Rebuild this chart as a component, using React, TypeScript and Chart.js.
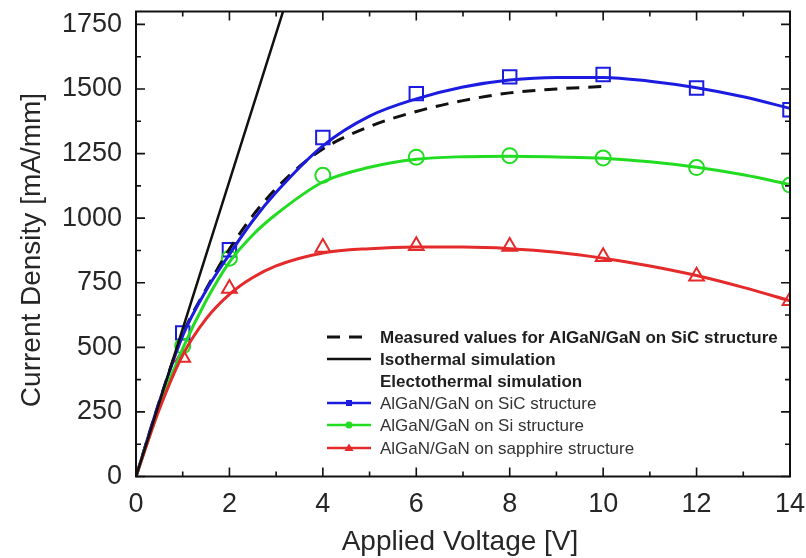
import React, { useEffect, useRef } from 'react';
import { Chart, registerables } from 'chart.js';

Chart.register(...registerables);

// ---- axis ticks ----
const VOLT_TICKS = [0, 2, 4, 6, 8, 10, 12, 14];
const VOLT_MINOR = [1, 3, 5, 7, 9, 11, 13];
const CURRENT_TICKS = [0, 250, 500, 750, 1000, 1250, 1500, 1750];
const CURRENT_MINOR = [125, 375, 625, 875, 1125, 1375, 1625];
const X_MIN = 0;
const X_MAX = 14;
const Y_MIN = 0;
const Y_MAX = 1800;

// ---- measured (dashed) ----
const measuredV = [0, 0.5, 1, 1.5, 2, 2.5, 3, 3.5, 4, 5, 6, 7, 8, 9, 10];
const measuredJ = [0, 290, 550, 725, 880, 1010, 1115, 1200, 1268, 1355, 1413, 1455, 1485, 1500, 1510];

// ---- isothermal simulation ----
const isoV = [0, 3.2];
const isoJ = [0, 1830];

// ---- electrothermal fitted curves ----
const curveV = [0, 0.5, 1, 1.5, 2, 2.5, 3, 4, 5, 6, 7, 8, 9, 10, 11, 12, 13, 14];
const sicCurve = [0, 290, 545, 720, 860, 990, 1100, 1280, 1395, 1462, 1508, 1535, 1545, 1545, 1530, 1505, 1470, 1425];
const siCurve = [0, 270, 495, 680, 830, 935, 1015, 1140, 1197, 1228, 1238, 1240, 1237, 1232, 1218, 1197, 1168, 1130];
const sapCurve = [0, 260, 470, 610, 705, 770, 815, 865, 882, 888, 888, 882, 868, 845, 815, 778, 732, 680];

// ---- electrothermal markers ----
const markV = [1, 2, 4, 6, 8, 10, 12, 14];
const sicMarks = [556, 878, 1312, 1482, 1547, 1556, 1504, 1420];
const siMarks = [505, 845, 1166, 1236, 1242, 1233, 1196, 1128];
const sapMarks = [461, 728, 886, 893, 890, 851, 775, 680];

// ---- legend ----
const LEGEND_LABELS = [
  'Measured values for AlGaN/GaN on SiC structure',
  'Isothermal simulation',
  'Electothermal simulation',
  'AlGaN/GaN on SiC structure',
  'AlGaN/GaN on Si structure',
  'AlGaN/GaN on sapphire structure',
];

const X_TITLE = 'Applied Voltage [V]';
const Y_TITLE = 'Current Density [mA/mm]';

const BLUE = '#1c1ce0';
const GREEN = '#22dc22';
const RED = '#e42a2a';
const BLACK = '#111111';
const TEXT = '#262626';
const FONT = '"Liberation Sans", Arial, Helvetica, sans-serif';

const pts = (xs: number[], ys: number[]) => xs.map((x, i) => ({ x, y: ys[i] }));

const framePlugin = {
  id: 'frameTicks',
  afterDatasetsDraw(chart: any) {
    const { ctx, chartArea } = chart;
    const xs = chart.scales.x;
    const ys = chart.scales.y;
    const { left, right, top, bottom } = chartArea;
    ctx.save();
    ctx.strokeStyle = BLACK;
    ctx.lineWidth = 2;
    ctx.strokeRect(left, top, right - left, bottom - top);
    const major = 9;
    const minor = 5;
    ctx.lineWidth = 1.6;
    ctx.beginPath();
    const xTick = (v: number, len: number) => {
      const p = xs.getPixelForValue(v);
      ctx.moveTo(p, bottom);
      ctx.lineTo(p, bottom - len);
      ctx.moveTo(p, top);
      ctx.lineTo(p, top + len);
    };
    const yTick = (v: number, len: number) => {
      const p = ys.getPixelForValue(v);
      ctx.moveTo(left, p);
      ctx.lineTo(left + len, p);
      ctx.moveTo(right, p);
      ctx.lineTo(right - len, p);
    };
    VOLT_TICKS.forEach((v) => xTick(v, major));
    VOLT_MINOR.forEach((v) => xTick(v, minor));
    CURRENT_TICKS.forEach((v) => yTick(v, major));
    CURRENT_MINOR.forEach((v) => yTick(v, minor));
    ctx.stroke();
    ctx.restore();
  },
  afterDraw(chart: any) {
    const { ctx, chartArea } = chart;
    ctx.save();
    // axis titles
    ctx.fillStyle = TEXT;
    ctx.font = `28px ${FONT}`;
    ctx.textAlign = 'center';
    ctx.textBaseline = 'middle';
    ctx.fillText(X_TITLE, (chartArea.left + chartArea.right) / 2 - 3, 542);
    ctx.save();
    ctx.translate(32, 250);
    ctx.rotate(-Math.PI / 2);
    ctx.fillText(Y_TITLE, 0, 0);
    ctx.restore();

    // legend
    const lx0 = 327;
    const lx1 = 371;
    const tx = 380;
    const rowY = [337, 359, 381, 403, 425, 448];
    ctx.textAlign = 'left';
    ctx.textBaseline = 'middle';
    LEGEND_LABELS.forEach((label, i) => {
      const y = rowY[i];
      ctx.font = i < 3 ? `bold 17px ${FONT}` : `17px ${FONT}`;
      ctx.fillStyle = i < 3 ? '#1e1e1e' : '#333333';
      ctx.fillText(label, tx, y + 1);
    });
    ctx.lineCap = 'butt';
    // measured dashed
    ctx.strokeStyle = BLACK;
    ctx.lineWidth = 3;
    ctx.setLineDash([13, 9]);
    ctx.beginPath();
    ctx.moveTo(lx0, rowY[0]);
    ctx.lineTo(lx1, rowY[0]);
    ctx.stroke();
    ctx.setLineDash([]);
    ctx.lineWidth = 2.5;
    ctx.beginPath();
    ctx.moveTo(lx0, rowY[1]);
    ctx.lineTo(lx1, rowY[1]);
    ctx.stroke();
    const cols = [BLUE, GREEN, RED];
    cols.forEach((c, k) => {
      const y = rowY[3 + k];
      ctx.strokeStyle = c;
      ctx.fillStyle = c;
      ctx.lineWidth = 2.5;
      ctx.beginPath();
      ctx.moveTo(lx0, y);
      ctx.lineTo(lx1, y);
      ctx.stroke();
      const cx = (lx0 + lx1) / 2;
      ctx.beginPath();
      if (k === 0) ctx.rect(cx - 3, y - 3, 6, 6);
      else if (k === 1) ctx.arc(cx, y, 3.5, 0, Math.PI * 2);
      else {
        ctx.moveTo(cx, y - 4.5);
        ctx.lineTo(cx + 4.5, y + 3);
        ctx.lineTo(cx - 4.5, y + 3);
        ctx.closePath();
      }
      ctx.fill();
    });
    ctx.restore();
  },
};

export default function App() {
  const ref = useRef<HTMLCanvasElement | null>(null);

  useEffect(() => {
    document.body.style.margin = '0';
    const canvas = ref.current;
    if (!canvas) return;

    const lineDs = (label: string, data: any, color: string, width: number, dash: number[] = []) => ({
      label,
      data,
      type: 'line' as const,
      showLine: true,
      borderColor: color,
      backgroundColor: color,
      borderWidth: width,
      borderDash: dash,
      pointRadius: 0,
      pointHoverRadius: 0,
      fill: false,
      cubicInterpolationMode: 'monotone' as const,
      tension: 0.4,
    });
    const markDs = (label: string, data: any, color: string, style: string, r: number) => ({
      label,
      data,
      type: 'scatter' as const,
      showLine: false,
      borderColor: color,
      backgroundColor: 'rgba(0,0,0,0)',
      borderWidth: 2,
      pointStyle: style,
      pointRadius: r,
      pointHoverRadius: r,
    });

    const chart = new Chart(canvas, {
      type: 'scatter',
      data: {
        datasets: [
          lineDs('Isothermal simulation', pts(isoV, isoJ), BLACK, 2.5),
          lineDs('AlGaN/GaN on sapphire structure', pts(curveV, sapCurve), RED, 3),
          lineDs('AlGaN/GaN on Si structure', pts(curveV, siCurve), GREEN, 3),
          lineDs('AlGaN/GaN on SiC structure', pts(curveV, sicCurve), BLUE, 3),
          lineDs('Measured values for AlGaN/GaN on SiC structure', pts(measuredV, measuredJ), BLACK, 3, [13, 9]),
          markDs('sapphire markers', pts(markV, sapMarks), RED, 'triangle', 8.5),
          markDs('Si markers', pts(markV, siMarks), GREEN, 'circle', 7.5),
          markDs('SiC markers', pts(markV, sicMarks), BLUE, 'rect', 9.5),
        ] as any,
      },
      options: {
        responsive: false,
        animation: false,
        devicePixelRatio: 1,
        layout: { padding: { top: 5, right: 16, left: 0, bottom: 0 } },
        plugins: {
          legend: { display: false },
          tooltip: { enabled: false },
          title: { display: false },
        },
        scales: {
          x: {
            type: 'linear',
            min: X_MIN,
            max: X_MAX,
            grid: { display: false, drawTicks: false },
            border: { display: false },
            afterBuildTicks: (scale: any) => {
              scale.ticks = VOLT_TICKS.map((v) => ({ value: v }));
            },
            afterFit: (scale: any) => {
              scale.height = 81.5;
              scale.paddingLeft = 0;
              scale.paddingRight = 0;
            },
            ticks: {
              padding: 12,
              color: TEXT,
              font: { family: FONT, size: 27 },
              maxRotation: 0,
              autoSkip: false,
              callback: (v: any) => String(v),
            },
          },
          y: {
            type: 'linear',
            min: Y_MIN,
            max: Y_MAX,
            grid: { display: false, drawTicks: false },
            border: { display: false },
            afterBuildTicks: (scale: any) => {
              scale.ticks = CURRENT_TICKS.map((v) => ({ value: v }));
            },
            afterFit: (scale: any) => {
              scale.width = 136;
              scale.paddingTop = 0;
              scale.paddingBottom = 0;
            },
            ticks: {
              padding: 14,
              color: TEXT,
              font: { family: FONT, size: 27 },
              autoSkip: false,
              callback: (v: any) => String(v),
            },
          },
        },
      } as any,
      plugins: [framePlugin],
    });

    return () => chart.destroy();
  }, []);

  return (
    <div style={{ width: 806, height: 558, background: '#ffffff' }}>
      <canvas ref={ref} width={806} height={558} style={{ width: 806, height: 558, display: 'block' }} />
    </div>
  );
}
